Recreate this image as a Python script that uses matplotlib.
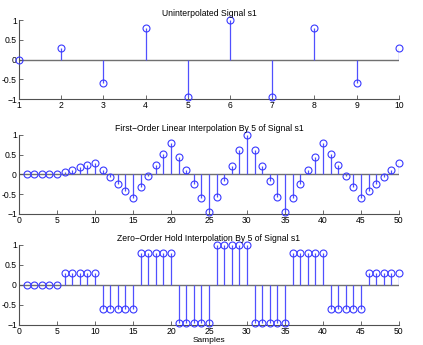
import matplotlib
matplotlib.use('Agg')
import matplotlib.pyplot as plt

# sinal original s1
n_s1 = list(range(1, 11))
s1 = [0, 0.3, -0.6, 0.8, -0.95, 1.0, -0.95, 0.8, -0.6, 0.3]

# interpolacao linear por 5
n_interp = list(range(1, 51))
s1_linear = [0, 0, 0, 0, 0, 0.06, 0.12, 0.18, 0.24, 0.3,
             0.12, -0.06, -0.24, -0.42, -0.6, -0.32, -0.04, 0.24, 0.52, 0.8,
             0.45, 0.1, -0.25, -0.6, -0.95, -0.56, -0.17, 0.22, 0.61, 1.0,
             0.61, 0.22, -0.17, -0.56, -0.95, -0.6, -0.25, 0.1, 0.45, 0.8,
             0.52, 0.24, -0.04, -0.32, -0.6, -0.42, -0.24, -0.06, 0.12, 0.3]

# retencao de ordem zero por 5
s1_zoh = [0, 0, 0, 0, 0, 0.3, 0.3, 0.3, 0.3, 0.3,
          -0.6, -0.6, -0.6, -0.6, -0.6, 0.8, 0.8, 0.8, 0.8, 0.8,
          -0.95, -0.95, -0.95, -0.95, -0.95, 1.0, 1.0, 1.0, 1.0, 1.0,
          -0.95, -0.95, -0.95, -0.95, -0.95, 0.8, 0.8, 0.8, 0.8, 0.8,
          -0.6, -0.6, -0.6, -0.6, -0.6, 0.3, 0.3, 0.3, 0.3, 0.3]

y_ticks = [-1, -0.5, 0, 0.5, 1]
y_labels = ['\u22121', '-0.5', '0', '0.5', '1']

plt.rcParams['font.family'] = ['Liberation Sans', 'DejaVu Sans']
plt.rcParams['font.size'] = 6


def desenhar_stem(ax, x, y, titulo, xlim, xticks):
    ax.axhline(0, color='#707070', lw=1, zorder=1)
    ax.vlines(x, 0, y, color='#5050ff', lw=0.9, zorder=2)
    ax.plot(x, y, 'o', mfc='none', mec='#3a3aff', ms=5, mew=0.8, zorder=3,
            clip_on=False)
    ax.set_xlim(*xlim)
    ax.set_ylim(-1, 1)
    ax.set_xticks(xticks)
    ax.set_yticks(y_ticks)
    ax.set_yticklabels(y_labels)
    ax.set_title(titulo, fontsize=6.2, pad=3)
    for lado in ['top', 'right']:
        ax.spines[lado].set_visible(False)
    for lado in ['left', 'bottom']:
        ax.spines[lado].set_color('#505050')
        ax.spines[lado].set_linewidth(0.8)
    ax.tick_params(direction='in', length=3, width=0.6, color='#505050',
                   labelsize=6.2, pad=1.5)


fig = plt.figure(figsize=(4.23, 3.45), dpi=100)
ax1 = fig.add_axes([0.045, 0.713, 0.898, 0.229])
ax2 = fig.add_axes([0.045, 0.380, 0.898, 0.229])
ax3 = fig.add_axes([0.045, 0.058, 0.898, 0.232])

desenhar_stem(ax1, n_s1, s1, 'Uninterpolated Signal s1', (1, 10), range(1, 11))
desenhar_stem(ax2, n_interp, s1_linear,
              'First\u2212Order Linear Interpolation By 5 of Signal s1',
              (0, 50), range(0, 51, 5))
desenhar_stem(ax3, n_interp, s1_zoh,
              'Zero\u2212Order Hold Interpolation By 5 of Signal s1',
              (0, 50), range(0, 51, 5))
ax3.set_xlabel('Samples', fontsize=6, labelpad=0.5)

fig.savefig('out.png', dpi=100)
